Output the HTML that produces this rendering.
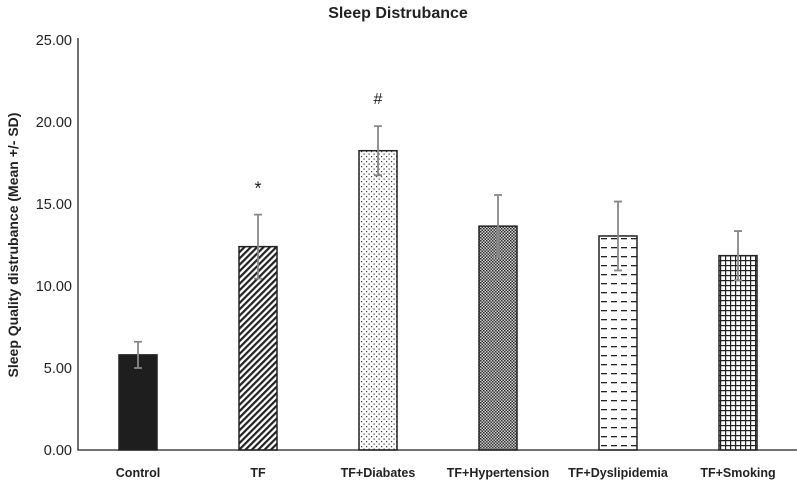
<!DOCTYPE html>
<html><head><meta charset="utf-8"><style>
body{margin:0;background:#fff;font-family:"Liberation Sans",sans-serif;}
svg text{font-family:"Liberation Sans",sans-serif;}
</style></head><body>
<svg width="797" height="481">
<defs>
<pattern id="p-diag" width="4.5" height="4.5" patternUnits="userSpaceOnUse" patternTransform="rotate(45)"><rect width="4.5" height="4.5" fill="#fff"/><rect width="2.2" height="4.5" fill="#222"/></pattern>
<pattern id="p-dots" width="5" height="5" patternUnits="userSpaceOnUse"><rect width="5" height="5" fill="#fff"/><rect x="1" y="1" width="1.2" height="1.2" fill="#333"/><rect x="3.5" y="3.5" width="1.2" height="1.2" fill="#333"/></pattern>
<pattern id="p-check" width="3" height="3" patternUnits="userSpaceOnUse"><rect width="3" height="3" fill="#ccc"/><rect width="1.5" height="1.5" fill="#333"/><rect x="1.5" y="1.5" width="1.5" height="1.5" fill="#333"/></pattern>
<pattern id="p-dash" width="10" height="9" patternUnits="userSpaceOnUse"><rect width="10" height="9" fill="#fff"/><rect x="1" y="4" width="6" height="1.3" fill="#222"/></pattern>
<pattern id="p-grid" width="5" height="5" patternUnits="userSpaceOnUse"><rect width="5" height="5" fill="#fff"/><rect width="1.2" height="5" fill="#222"/><rect width="5" height="1.2" fill="#222"/></pattern>
</defs>
<text x="398" y="18" text-anchor="middle" font-size="16" font-weight="bold" fill="#222">Sleep Distrubance</text>
<text transform="translate(18,245) rotate(-90)" text-anchor="middle" font-size="14" font-weight="bold" fill="#222">Sleep Quality distrubance (Mean +/- SD)</text>
<g id="g"></g>
</svg>
<script>
const categories=["Control","TF","TF+Diabates","TF+Hypertension","TF+Dyslipidemia","TF+Smoking"];
const means=[5.8,12.4,18.25,13.65,13.05,11.85];
const sds=[0.8,1.95,1.5,1.9,2.1,1.5];
const marks=["","*","#","","",""];
const ticks=[0,5,10,15,20,25];
const fills=["#1e1e1e","url(#p-diag)","url(#p-dots)","url(#p-check)","url(#p-dash)","url(#p-grid)"];
const NS="http://www.w3.org/2000/svg";
const g=document.getElementById('g');
const y0=450,scale=16.4;
const y=v=>y0-v*scale;
const x=i=>138+i*120;
function el(t,a,txt){const e=document.createElementNS(NS,t);for(const k in a)e.setAttribute(k,a[k]);if(txt!==undefined)e.textContent=txt;g.appendChild(e);return e;}
ticks.forEach(t=>{const e=el('text',{x:72,y:y(t)+5,'text-anchor':'end','font-size':14.5,fill:'#222'},t.toFixed(2));

});
categories.forEach((c,i)=>{
const b=el('rect',{x:x(i)-19,y:y(means[i]),width:38,height:y0-y(means[i]),fill:fills[i],stroke:'#222','stroke-width':1.5});


const lo=y(means[i]-sds[i]),hi=y(means[i]+sds[i]);
const eb=el('path',{d:`M${x(i)} ${lo}V${hi}M${x(i)-4} ${hi}H${x(i)+4}M${x(i)-4} ${lo}H${x(i)+4}`,stroke:'#888','stroke-width':1.8,fill:'none'});


const l=el('text',{x:x(i),y:477,'text-anchor':'middle','font-size':12.5,'font-weight':'bold',fill:'#222'},c);


if(marks[i]){const m=el('text',{x:x(i),y:hi-(marks[i]=='*'?20:22),'text-anchor':'middle','font-size':marks[i]=='*'?18:16,fill:'#222'},marks[i]);

}
});
const ax=el('path',{d:`M78 ${y(25)-2}V${y0}H797`,stroke:'#222','stroke-width':1.3,fill:'none'});


</script>
</body></html>
